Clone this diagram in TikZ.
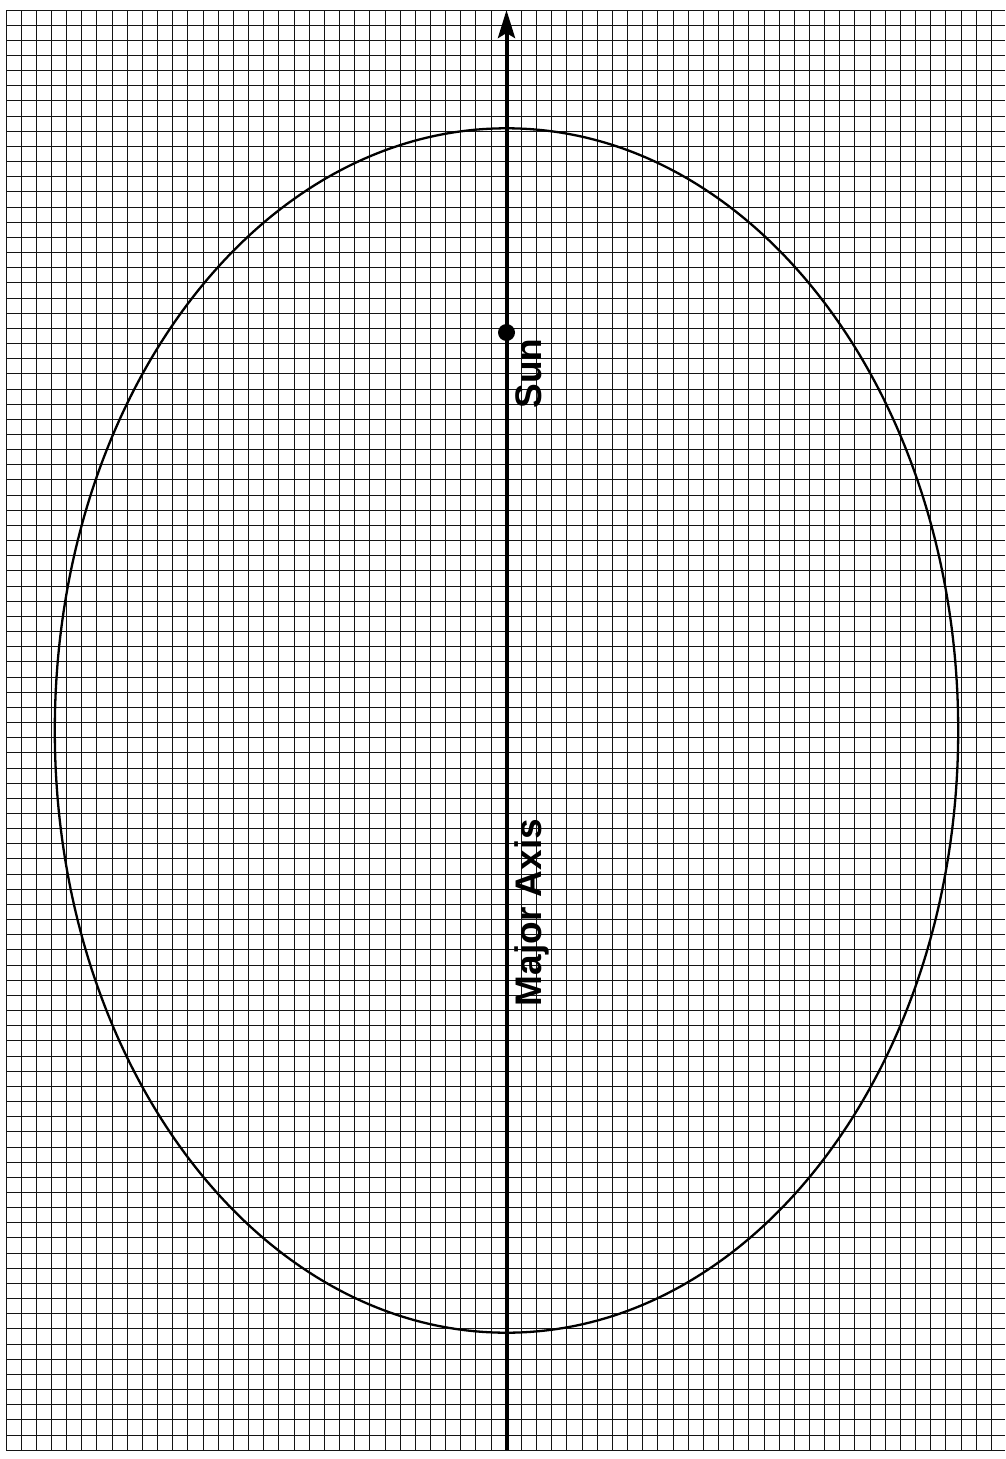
\documentclass[tikz,border=0pt]{standalone}
\usepackage{fontspec}
\setmainfont{Liberation Sans}
\usetikzlibrary{arrows.meta}
\begin{document}
\begin{tikzpicture}[x=1pt,y=-1pt,
  gridline/.style={line width=1pt, black!92},
  orbit/.style={line width=2.3pt, black},
  axisline/.style={line width=4pt, black, -{Stealth[length=28pt,width=17pt,inset=5pt]}},
  label/.style={rotate=90, anchor=base, inner sep=0pt, font=\bfseries\fontsize{37}{37}\selectfont}]
\useasboundingbox (0,0) rectangle (1005,1459);
\fill[white] (0,0) rectangle (1005,1459);
\foreach \k in {0,...,65} \draw[gridline] ({6+\k*15.16},10) -- ({6+\k*15.16},1450);
\foreach \k in {0,...,95} \draw[gridline] (6,{10+\k*15.16}) -- (1005,{10+\k*15.16});
\draw[orbit] (506.5,730.5) ellipse [x radius=451.7, y radius=602.2];
\coordinate (axbot) at (506.5,1450);
\coordinate (axtop) at (506.5,10);
\draw[axisline] (axbot) -- (axtop);
\node[circle, fill=black, minimum size=17pt, inner sep=0pt] (sun) at (506.5,332.5) {};
\node[label] (sunlabel) at (541,373.5) {Sun};
\node[label] (axislabel) at (541,912.5) {Major Axis};
\end{tikzpicture}
\end{document}
